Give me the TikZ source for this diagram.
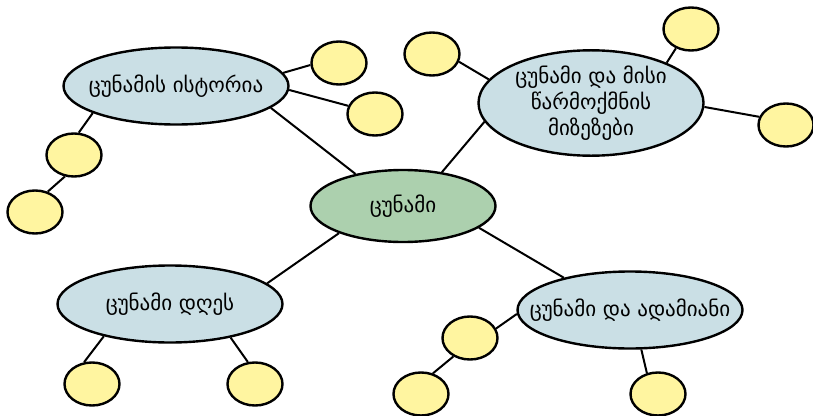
\documentclass[tikz,border=0pt]{standalone}
\usepackage{fontspec}
\setmainfont{DejaVu Sans}
\usepackage{tikz}
\usetikzlibrary{shapes.geometric}
\definecolor{hubgreen}{RGB}{172,208,174}
\definecolor{topicblue}{RGB}{202,223,229}
\definecolor{leafyellow}{RGB}{255,245,160}

\begin{document}
\begin{tikzpicture}[
    x=1pt, y=-1pt,
    bubble/.style={ellipse, draw=black, line width=2.4pt, inner sep=0pt, align=center, font=\fontsize{21}{26}\selectfont},
    hub/.style={bubble, fill=hubgreen, minimum width=185pt, minimum height=72pt},
    topic/.style={bubble, fill=topicblue, inner xsep=-24pt, minimum width=225pt, minimum height=77pt},
    leaf/.style={bubble, fill=leafyellow, minimum width=55pt, minimum height=43pt},
    link/.style={draw=black, line width=2pt}
]
\useasboundingbox (0,0) rectangle (813,415);

\node[hub] (tsunami) at (403,206) {ცუნამი};
\node[topic] (history) at (176,86) {ცუნამის ისტორია};
\node[topic, minimum height=102pt] (origin) at (591,103) {ცუნამი და მისი\\წარმოქმნის\\მიზეზები};
\node[topic] (today) at (170,304) {ცუნამი დღეს};
\node[topic] (human) at (630,310) {ცუნამი და ადამიანი};

\node[leaf] (h1) at (339,63) {};
\node[leaf] (h2) at (375,114) {};
\node[leaf] (h3) at (74,155) {};
\node[leaf] (h4) at (35,212) {};
\node[leaf] (o1) at (432,54) {};
\node[leaf] (o2) at (691,29) {};
\node[leaf] (o3) at (786,125) {};
\node[leaf] (t1) at (92,384) {};
\node[leaf] (t2) at (255,384) {};
\node[leaf] (m1) at (470,338) {};
\node[leaf] (m2) at (421,394) {};
\node[leaf] (m3) at (658,394) {};

% hub to topics
\draw[link] (tsunami.146) -- (history.-13);
\draw[link] (tsunami.41) -- (origin.190);
\draw[link] (tsunami.203) -- (today.12);
\draw[link] (tsunami.-16) -- (human.154);

% topics to leaves
\draw[link] (history.7) -- (h1.184);
\draw[link] (history.-2) -- (h2.163);
\draw[link] (history.198) -- (h3.78);
\draw[link] (h3.247) -- (h4.58);
\draw[link] (origin.167) -- (o1.-16);
\draw[link] (origin.28) -- (o2.232);
\draw[link] (origin.-2) -- (o3.163);
\draw[link] (today.206) -- (t1.110);
\draw[link] (today.-29) -- (t2.108);
\draw[link] (human.182) -- (m1.20);
\draw[link] (m1.228) -- (m2.60);
\draw[link] (human.-74) -- (m3.118);

\end{tikzpicture}
\end{document}
